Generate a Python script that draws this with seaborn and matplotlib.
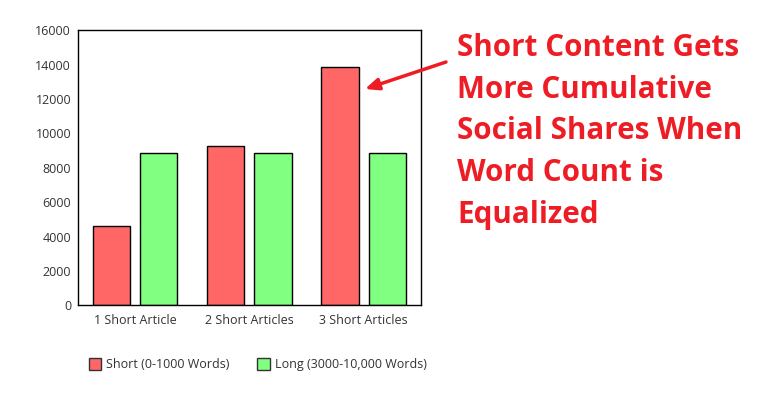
import matplotlib
matplotlib.use("Agg")
import matplotlib.pyplot as plt
import seaborn as sns
import pandas as pd

categories = ["1 Short Article", "2 Short Articles", "3 Short Articles"]
short_vals = [4600, 9250, 13850]
long_vals = [8850, 8850, 8850]
series_names = ["Short (0-1000 Words)", "Long (3000-10,000 Words)"]
yticks = [0, 2000, 4000, 6000, 8000, 10000, 12000, 14000, 16000]
headline = "Short Content Gets\nMore Cumulative\nSocial Shares When\nWord Count is\nEqualized"

df = pd.DataFrame({
    "cat": categories * 2,
    "val": short_vals + long_vals,
    "series": [series_names[0]] * 3 + [series_names[1]] * 3,
})

sns.set_style("white")
plt.rcParams["font.family"] = ["Open Sans", "DejaVu Sans"]

fig = plt.figure(figsize=(7.6, 4.0), dpi=100)
ax = fig.add_axes([0.1026, 0.2368, 0.4510, 0.6874])

sns.barplot(data=df, x="cat", y="val", hue="series", order=categories,
            hue_order=series_names, palette=["#ff6666", "#80ff80"],
            width=0.825, gap=0.21, edgecolor="black", linewidth=1,
            saturation=1, ax=ax, legend=True)

ax.set_xlim(-0.5, 2.5)
ax.set_ylim(0, 16000)
ax.set_yticks(yticks)
ax.set_yticklabels([str(t) for t in yticks])
ax.set_xlabel("")
ax.set_ylabel("")
ax.tick_params(axis="both", length=0, labelsize=9, colors="#333333")
ax.tick_params(axis="x", pad=6)
ax.tick_params(axis="y", pad=5)
for s in ax.spines.values():
    s.set_color("black")
    s.set_linewidth(1)
    s.set_visible(True)

handles, labels = ax.get_legend_handles_labels()
ax.get_legend().remove()
for h in handles:
    h.set_edgecolor("#333333")
fig.legend(handles, labels, loc="center left", bbox_to_anchor=(0.102, 0.088),
           ncol=2, frameon=False, fontsize=9, handlelength=1.0, handleheight=1.0,
           handletextpad=0.4, columnspacing=2.2, labelcolor="#333333")

fig.text(457 / 760, 1 - 33 / 400, headline, color="#ee1c24", fontsize=21.3,
         fontweight="bold", ha="left", va="top", linespacing=1.51,
         family=["Open Sans", "DejaVu Sans"])

ax.annotate("", xy=(365 / 760, 1 - 89 / 400), xytext=(446 / 760, 1 - 62 / 400),
            xycoords="figure fraction", textcoords="figure fraction",
            arrowprops=dict(arrowstyle="-|>,head_length=0.8,head_width=0.35",
                            color="#ee1c24", lw=2.5, shrinkA=0, shrinkB=0),
            annotation_clip=False)

fig.savefig("out.png", dpi=100, facecolor="white")
